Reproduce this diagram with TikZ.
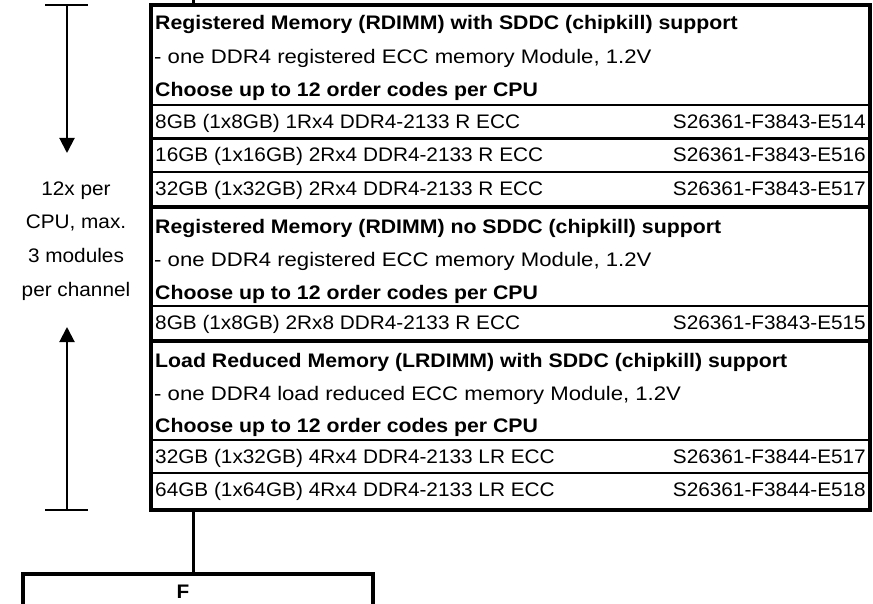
\documentclass[tikz,border=0pt]{standalone}
\usepackage{fontspec}
\setmainfont{Liberation Sans}[FakeStretch=1.06]
\newfontfamily\descfont{Liberation Sans}[FakeStretch=1.13]
\newfontfamily\headfont{Liberation Sans}[FakeStretch=1.085]
\usetikzlibrary{arrows.meta}

\tikzset{
  frame/.style={draw, line width=4pt, inner sep=0pt, outer sep=0pt},
  cell/.style={anchor=base west, inner sep=0pt, font=\fontsize{19.6}{22}\selectfont},
  desccell/.style={cell, font=\fontsize{19.6}{22}\descfont},
  headcell/.style={cell, font=\fontsize{19.6}{22}\headfont\bfseries},
  codecell/.style={anchor=base east, inner sep=0pt, font=\fontsize{19.6}{22}\selectfont},
  note/.style={anchor=base, inner sep=0pt, font=\fontsize{19.6}{22}\selectfont},
  rowline/.style={line width=2.5pt},
  secline/.style={line width=4pt},
  link/.style={line width=3.4pt},
  dim/.style={line width=2pt},
  dimarrow/.style={dim, -{Triangle[width=15pt,length=15pt]}},
}

\begin{document}
\begin{tikzpicture}[x=1pt,y=-1pt]
  \useasboundingbox (0,0) rectangle (873,604);

  % memory option table
  \node[frame, minimum width=718.5pt, minimum height=505pt, anchor=north west] (mem) at (151,5) {};

  % row separators
  \foreach \y in {105,138.5,172,306,440,473}
    \draw[rowline] (mem.west |- 0,\y) -- (mem.east |- 0,\y);
  \foreach \y in {207,341}
    \draw[secline] (mem.west |- 0,\y) -- (mem.east |- 0,\y);

  % section 1
  \node[headcell] (h1) at (155,30) {Registered Memory (RDIMM) with SDDC (chipkill) support};
  \node[desccell] (d1) at (154,63.5) {- one DDR4 registered ECC memory Module, 1.2V};
  \node[headcell] (c1) at (155,96.5) {Choose up to 12 order codes per CPU};
  \node[cell] (m1) at (155,128.5) {8GB (1x8GB) 1Rx4 DDR4-2133 R ECC};
  \node[codecell] (o1) at (866,128.5) {S26361-F3843-E514};
  \node[cell] (m2) at (155,162) {16GB (1x16GB) 2Rx4 DDR4-2133 R ECC};
  \node[codecell] (o2) at (866,162) {S26361-F3843-E516};
  \node[cell] (m3) at (155,195.5) {32GB (1x32GB) 2Rx4 DDR4-2133 R ECC};
  \node[codecell] (o3) at (866,195.5) {S26361-F3843-E517};

  % section 2
  \node[headcell] (h2) at (155,233.5) {Registered Memory (RDIMM) no SDDC (chipkill) support};
  \node[desccell] (d2) at (154,266.5) {- one DDR4 registered ECC memory Module, 1.2V};
  \node[headcell] (c2) at (155,299) {Choose up to 12 order codes per CPU};
  \node[cell] (m4) at (155,329.5) {8GB (1x8GB) 2Rx8 DDR4-2133 R ECC};
  \node[codecell] (o4) at (866,329.5) {S26361-F3843-E515};

  % section 3
  \node[headcell] (h3) at (155,367) {Load Reduced Memory (LRDIMM) with SDDC (chipkill) support};
  \node[desccell] (d3) at (154,400.5) {- one DDR4 load reduced ECC memory Module, 1.2V};
  \node[headcell] (c3) at (155,432.5) {Choose up to 12 order codes per CPU};
  \node[cell] (m5) at (155,463.5) {32GB (1x32GB) 4Rx4 DDR4-2133 LR ECC};
  \node[codecell] (o5) at (866,463.5) {S26361-F3844-E517};
  \node[cell] (m6) at (155,496.5) {64GB (1x64GB) 4Rx4 DDR4-2133 LR ECC};
  \node[codecell] (o6) at (866,496.5) {S26361-F3844-E518};

  % module count annotation
  \node[note] (n1) at (76,195.5) {12x per};
  \node[note] (n2) at (76,229) {CPU, max.};
  \node[note] (n3) at (76,262.5) {3 modules};
  \node[note] (n4) at (76,296) {per channel};

  \coordinate (dtop) at (67,5);
  \coordinate (dbot) at (67,510);
  \coordinate (tipdown) at (67,153);
  \coordinate (tipup) at (67,327);
  \draw[dim] ([xshift=-22pt]dtop) -- ([xshift=21pt]dtop);
  \draw[dim] ([xshift=-22pt]dbot) -- ([xshift=21pt]dbot);
  \draw[dimarrow] (dtop) -- (tipdown);
  \draw[dimarrow] (dbot) -- (tipup);

  % following block
  \node[draw, line width=3.4pt, inner sep=0pt, outer sep=0pt,
        minimum width=350pt, minimum height=60pt, anchor=north west] (fbox) at (23,574) {};
  \node[anchor=base, inner sep=0pt, font=\fontsize{19.6}{22}\selectfont\bfseries] (ftext) at (183,598) {F};

  % connectors
  \coordinate (feed) at (193.5,0);
  \draw[link] (feed) -- (feed |- mem.north);
  \draw[link] (mem.south -| feed) -- (fbox.north -| feed);
\end{tikzpicture}
\end{document}
